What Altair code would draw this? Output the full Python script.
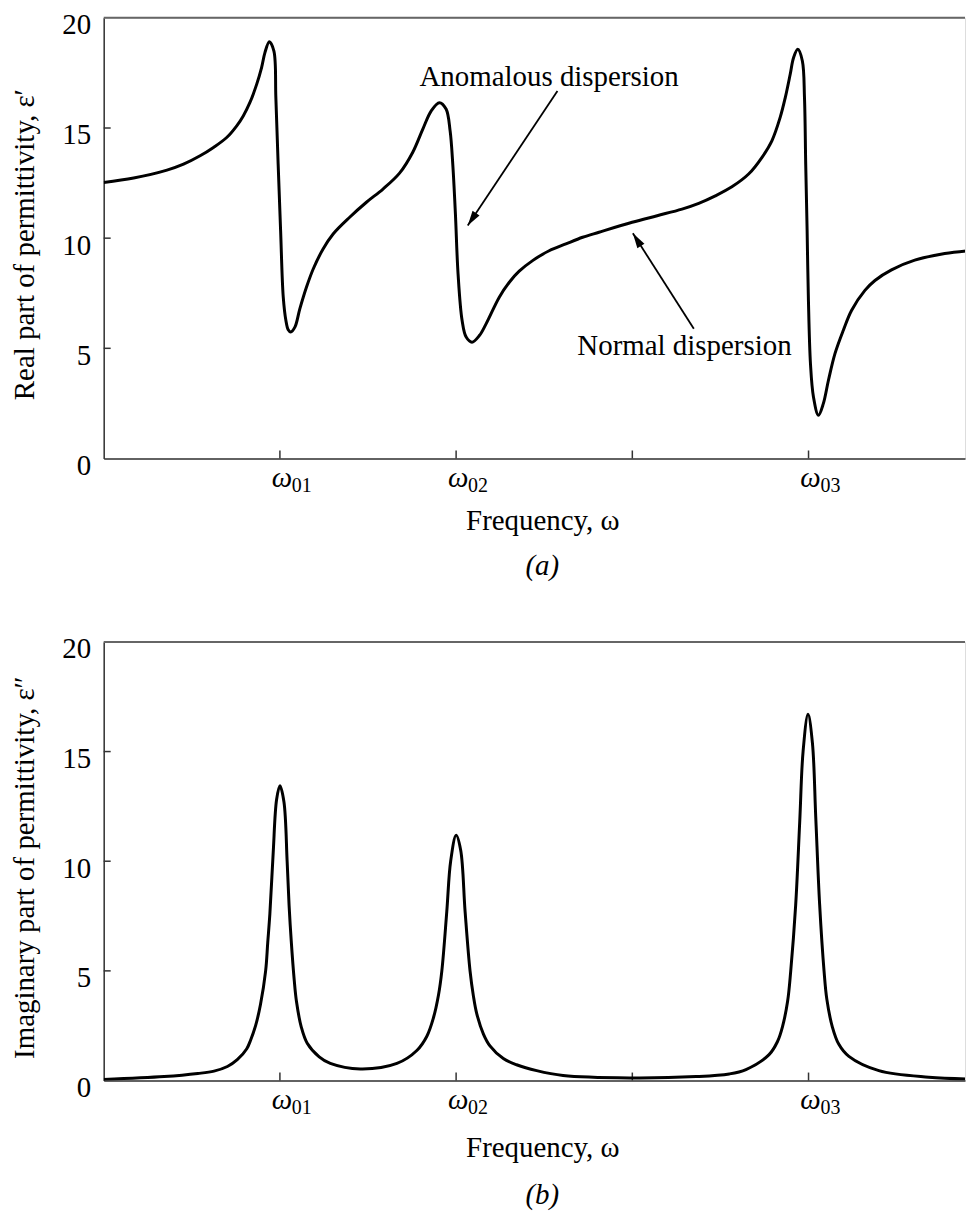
import altair as alt
import pandas as pd

# ---------------- data ----------------
# (a) real part of permittivity
re_x = [0.0, 0.170, 0.359, 0.453, 0.547, 0.623, 0.698, 0.755, 0.792, 0.830, 0.868,
        0.896, 0.915, 0.940, 0.966, 0.977, 0.990, 1.004, 1.019, 1.034, 1.047, 1.061,
        1.085, 1.113, 1.151, 1.189, 1.245, 1.302, 1.396, 1.491, 1.585, 1.679, 1.754,
        1.811, 1.858, 1.905, 1.943, 1.966, 1.981, 1.996, 2.011, 2.034, 2.057, 2.090,
        2.132, 2.170, 2.245, 2.302, 2.358, 2.434, 2.528, 2.623, 2.718, 2.811, 2.999,
        3.141, 3.282, 3.377, 3.471, 3.565, 3.660, 3.735, 3.792, 3.839, 3.868, 3.896,
        3.915, 3.939, 3.965, 3.977, 3.984, 3.992, 3.999, 4.011, 4.028, 4.056, 4.084,
        4.113, 4.150, 4.197, 4.244, 4.320, 4.377, 4.471, 4.603, 4.773, 4.933]
re_y = [12.53, 12.73, 13.09, 13.36, 13.74, 14.12, 14.57, 15.10, 15.55, 16.16, 16.98,
        17.74, 18.42, 18.92, 18.49, 16.38, 13.36, 10.34, 7.32, 6.26, 5.84, 5.74,
        5.96, 6.79, 7.78, 8.60, 9.51, 10.19, 10.95, 11.63, 12.23, 12.95, 13.90,
        14.95, 15.77, 16.15, 15.86, 14.87, 13.36, 11.10, 8.38, 6.26, 5.51, 5.28,
        5.58, 6.11, 7.32, 8.00, 8.50, 8.98, 9.43, 9.74, 10.04, 10.27, 10.72,
        11.02, 11.32, 11.58, 11.92, 12.33, 12.91, 13.66, 14.42, 15.48, 16.38, 17.44,
        18.19, 18.57, 18.04, 16.38, 13.36, 10.34, 7.32, 4.30, 2.79, 1.96, 2.49,
        3.55, 4.76, 5.81, 6.72, 7.63, 8.08, 8.56, 9.00, 9.30, 9.45]

# (b) imaginary part of permittivity
im_x = [0.0, 0.343, 0.534, 0.626, 0.702, 0.758, 0.812, 0.834, 0.862, 0.890, 0.919,
        0.931, 0.943, 0.962, 0.981, 1.0, 1.023, 1.041, 1.052, 1.064, 1.081, 1.094,
        1.121, 1.155, 1.223, 1.286, 1.456, 1.664, 1.777, 1.834, 1.871, 1.900, 1.919,
        1.947, 1.969, 2.0, 2.026, 2.051, 2.079, 2.098, 2.117, 2.155, 2.192, 2.268,
        2.343, 2.457, 2.607, 2.984, 3.362, 3.550, 3.645, 3.776, 3.824, 3.852, 3.881,
        3.899, 3.927, 3.950, 3.969, 3.997, 4.022, 4.041, 4.063, 4.088, 4.104, 4.135,
        4.172, 4.229, 4.399, 4.682, 4.918]
im_y = [0.05, 0.18, 0.32, 0.43, 0.64, 0.95, 1.45, 1.85, 2.50, 3.48, 5.0,
        6.30, 7.60, 10.40, 12.80, 13.44, 12.70, 10.00, 8.00, 6.40, 4.60, 3.60,
        2.45, 1.70, 1.08, 0.78, 0.53, 0.78, 1.37, 2.02, 2.85, 3.90, 5.0,
        7.70, 10.00, 11.18, 10.50, 7.70, 5.0, 3.86, 3.05, 2.12, 1.58, 1.00,
        0.72, 0.45, 0.23, 0.12, 0.18, 0.30, 0.50, 1.18, 1.78, 2.45, 3.60,
        5.0, 8.00, 11.80, 15.00, 16.70, 15.40, 12.00, 8.03, 5.0, 3.70, 2.45,
        1.65, 1.10, 0.45, 0.15, 0.07]

x_tick_vals = [1, 2, 3, 4]
x_label_vals = [1, 2, 4]
x_label_main = ["ω", "ω", "ω"]
x_label_subs = ["01", "02", "03"]
y_tick_vals = [5, 10, 15]
y_label_vals = [0, 5, 10, 15, 20]

# annotations (panel a)
ann_text = ["Anomalous dispersion", "Normal dispersion"]
ann_text_x = [1.792, 2.688]
ann_text_y = [16.91, 4.68]
arrow_from_x = [2.575, 3.349]
arrow_from_y = [16.68, 5.89]
arrow_to_x = [2.066, 3.003]
arrow_to_y = [10.57, 10.22]

# ---------------- styling ----------------
W = 864
X_MAX = 4.888
FONT = "Liberation Serif"
FS = 29
AX = "#333333"
HEAD = "M0,0L-0.28,1L0.28,1Z"


def x_enc(title_y):
    return alt.X("x:Q",
                 scale=alt.Scale(domain=[0, X_MAX], nice=False, zero=False),
                 axis=alt.Axis(title="Frequency, ω", labels=False, ticks=False, grid=False,
                               domainColor=AX, domainWidth=1.5,
                               titleFont=FONT, titleFontSize=FS, titleFontWeight="normal",
                               titleColor="black", titleX=440, titleY=title_y,
                               titleAlign="center", titleBaseline="alphabetic"))


def y_enc(title, h):
    return alt.Y("y:Q",
                 scale=alt.Scale(domain=[0, 20], nice=False),
                 axis=alt.Axis(title=title, values=y_label_vals, ticks=False, grid=False,
                               domainColor=AX, domainWidth=1.5,
                               labelFont=FONT, labelFontSize=FS, labelColor="black",
                               labelPadding=13, labelOffset=7, labelBaseline="middle",
                               titleFont=FONT, titleFontSize=FS, titleFontWeight="normal",
                               titleColor="black", titleAngle=270, titleX=-64,
                               titleY=h / 2 + 6, titleAlign="center", titleBaseline="bottom"))


def panel(xs, ys, ytitle, tag, h, xt_y, tag_y, annotate):
    X = x_enc(xt_y)
    Y = y_enc(ytitle, h)
    curve = alt.Chart(pd.DataFrame({"x": xs, "y": ys})).mark_line(
        color="black", strokeWidth=3, interpolate="catmull-rom", clip=True
    ).encode(x=X, y=Y)

    top = alt.Chart(pd.DataFrame({"y": [20]})).mark_rule(color="#666666", strokeWidth=2).encode(
        y=Y, x=alt.value(0), x2=alt.value(W))

    xt = alt.Chart(pd.DataFrame({"x": x_tick_vals})).mark_rule(color=AX, strokeWidth=1.5).encode(
        x=X, y=alt.value(h), y2=alt.value(h - 8))
    yt = alt.Chart(pd.DataFrame({"y": y_tick_vals})).mark_rule(color=AX, strokeWidth=1.5).encode(
        y=Y, x=alt.value(0), x2=alt.value(7))

    lab_df = pd.DataFrame({"x": x_label_vals, "m": x_label_main, "s": x_label_subs})
    lab_main = alt.Chart(lab_df).mark_text(
        font=FONT, fontSize=FS, fontStyle="italic", align="center", baseline="alphabetic",
        dx=2, color="black"
    ).encode(x=X, y=alt.value(h + 29), text="m:N")
    lab_sub = alt.Chart(lab_df).mark_text(
        font=FONT, fontSize=20, align="left", baseline="alphabetic", dx=12, color="black"
    ).encode(x=X, y=alt.value(h + 34), text="s:N")

    tag_mark = alt.Chart(pd.DataFrame({"t": [tag]})).mark_text(
        font=FONT, fontSize=FS, fontStyle="italic", align="center", baseline="alphabetic",
        color="black"
    ).encode(x=alt.value(440), y=alt.value(h + tag_y), text="t:N")

    layers = [top, xt, yt, curve, lab_main, lab_sub, tag_mark]

    if annotate:
        adf = pd.DataFrame({"x": ann_text_x, "y": ann_text_y, "t": ann_text})
        txt = alt.Chart(adf).mark_text(
            font=FONT, fontSize=FS, align="left", baseline="alphabetic", color="black"
        ).encode(x=X, y=Y, text="t:N")
        rdf = pd.DataFrame({"x": arrow_from_x, "y": arrow_from_y,
                            "x2": arrow_to_x, "y2": arrow_to_y})
        lines = alt.Chart(rdf).mark_rule(color="black", strokeWidth=1.8).encode(
            x=X, y=Y, x2="x2:Q", y2="y2:Q")
        head1 = alt.Chart(pd.DataFrame({"x": [arrow_to_x[0]], "y": [arrow_to_y[0]]})).mark_point(
            shape=HEAD, size=900, filled=True, color="black", opacity=1, angle=213.7
        ).encode(x=X, y=Y)
        head2 = alt.Chart(pd.DataFrame({"x": [arrow_to_x[1]], "y": [arrow_to_y[1]]})).mark_point(
            shape=HEAD, size=900, filled=True, color="black", opacity=1, angle=327.5
        ).encode(x=X, y=Y)
        layers += [lines, head1, head2, txt]

    return alt.layer(*layers).properties(width=W, height=h)


pa = panel(re_x, re_y, "Real part of permittivity, ε′", "(a)", 442, 71, 117, True)
pb = panel(im_x, im_y, "Imaginary part of permittivity, ε″", "(b)", 440, 76, 124, False)

chart = alt.vconcat(pa, pb, spacing=52).properties(
    padding={"left": 2, "top": 0, "right": 0, "bottom": 0}
).configure_view(strokeWidth=0).configure(background="white")

chart.save("out.html", embed_options={"renderer": "svg", "actions": False})
